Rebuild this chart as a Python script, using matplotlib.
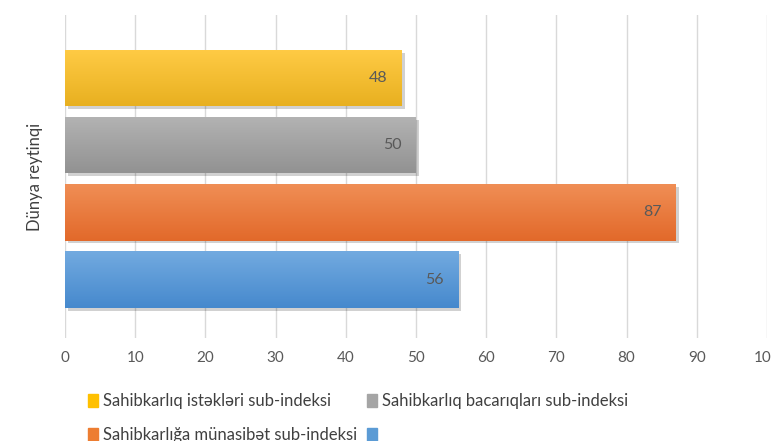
import numpy as np
import matplotlib.pyplot as plt
import matplotlib.patheffects as pe
from matplotlib.colors import LinearSegmentedColormap

plt.rcParams['font.family'] = ['Lato', 'DejaVu Sans']

# series (drawn top to bottom)
series = ['Sahibkarlıq istəkləri sub-indeksi',
          'Sahibkarlıq bacarıqları sub-indeksi',
          'Sahibkarlığa münasibət sub-indeksi',
          '']
values = [48, 50, 87, 56]
colors = ['#FFC000', '#A5A5A5', '#ED7D31', '#5B9BD5']
# gradient top / bottom shades
grad_top = ['#FFCB45', '#B3B3B3', '#F08E55', '#72AAE0']
grad_bot = ['#E8B020', '#929292', '#E2692A', '#4689CD']
xticks = list(range(0, 101, 10))

fig = plt.figure(figsize=(7.71, 4.41), dpi=100)
ax = fig.add_axes([65 / 771, 1 - 338 / 441, 702 / 771, 323 / 441])

pos = np.arange(len(values))
bars = ax.barh(pos, values, height=0.84, color=colors, zorder=3,
               path_effects=[pe.SimplePatchShadow(offset=(2, -2), shadow_rgbFace='#000000', alpha=0.18), pe.Normal()])

grad = np.linspace(0, 1, 100).reshape(-1, 1)
for b, c1, c2 in zip(bars, grad_top, grad_bot):
    cmap = LinearSegmentedColormap.from_list('g', [c1, c2])
    x0, y0, w, h = b.get_x(), b.get_y(), b.get_width(), b.get_height()
    im = ax.imshow(grad, cmap=cmap, aspect='auto', extent=(x0, x0 + w, y0 + h, y0),
                   zorder=4, interpolation='bicubic')
    im.set_clip_path(b)

for b, v in zip(bars, values):
    ax.text(v - 2.0, b.get_y() + b.get_height() / 2, str(v), ha='right', va='center',
            fontsize=11.5, color='#595959', zorder=5)

ax.set_xlim(0, 100)
ax.set_ylim(3.87, -0.94)
ax.set_xticks(xticks)
ax.set_yticks([])
ax.tick_params(axis='x', length=0, labelsize=11, labelcolor='#595959', pad=9)
ax.grid(axis='x', color='#D9D9D9', linewidth=1, zorder=0)
for s in ax.spines.values():
    s.set_visible(False)

ax.set_ylabel('Dünya reytinqi', fontsize=12, color='#404040')
ax.yaxis.set_label_coords(-0.032, 0.5)

# legend fills column-first, so reorder to get rows: yellow/gray, orange/blue
order = [0, 2, 1, 3]
handles = [plt.Rectangle((0, 0), 1, 1, color=colors[i]) for i in order]
labels = [series[i] for i in order]
fig.legend(handles, labels, ncol=2, loc='upper left', bbox_to_anchor=(88 / 771, 1 - 393 / 441),
           frameon=False, fontsize=12, handlelength=0.6, handleheight=0.8, handletextpad=0.3,
           columnspacing=0.6, labelspacing=1.1, labelcolor='#404040', borderaxespad=0, borderpad=0)

fig.savefig('out.png', dpi=100)
